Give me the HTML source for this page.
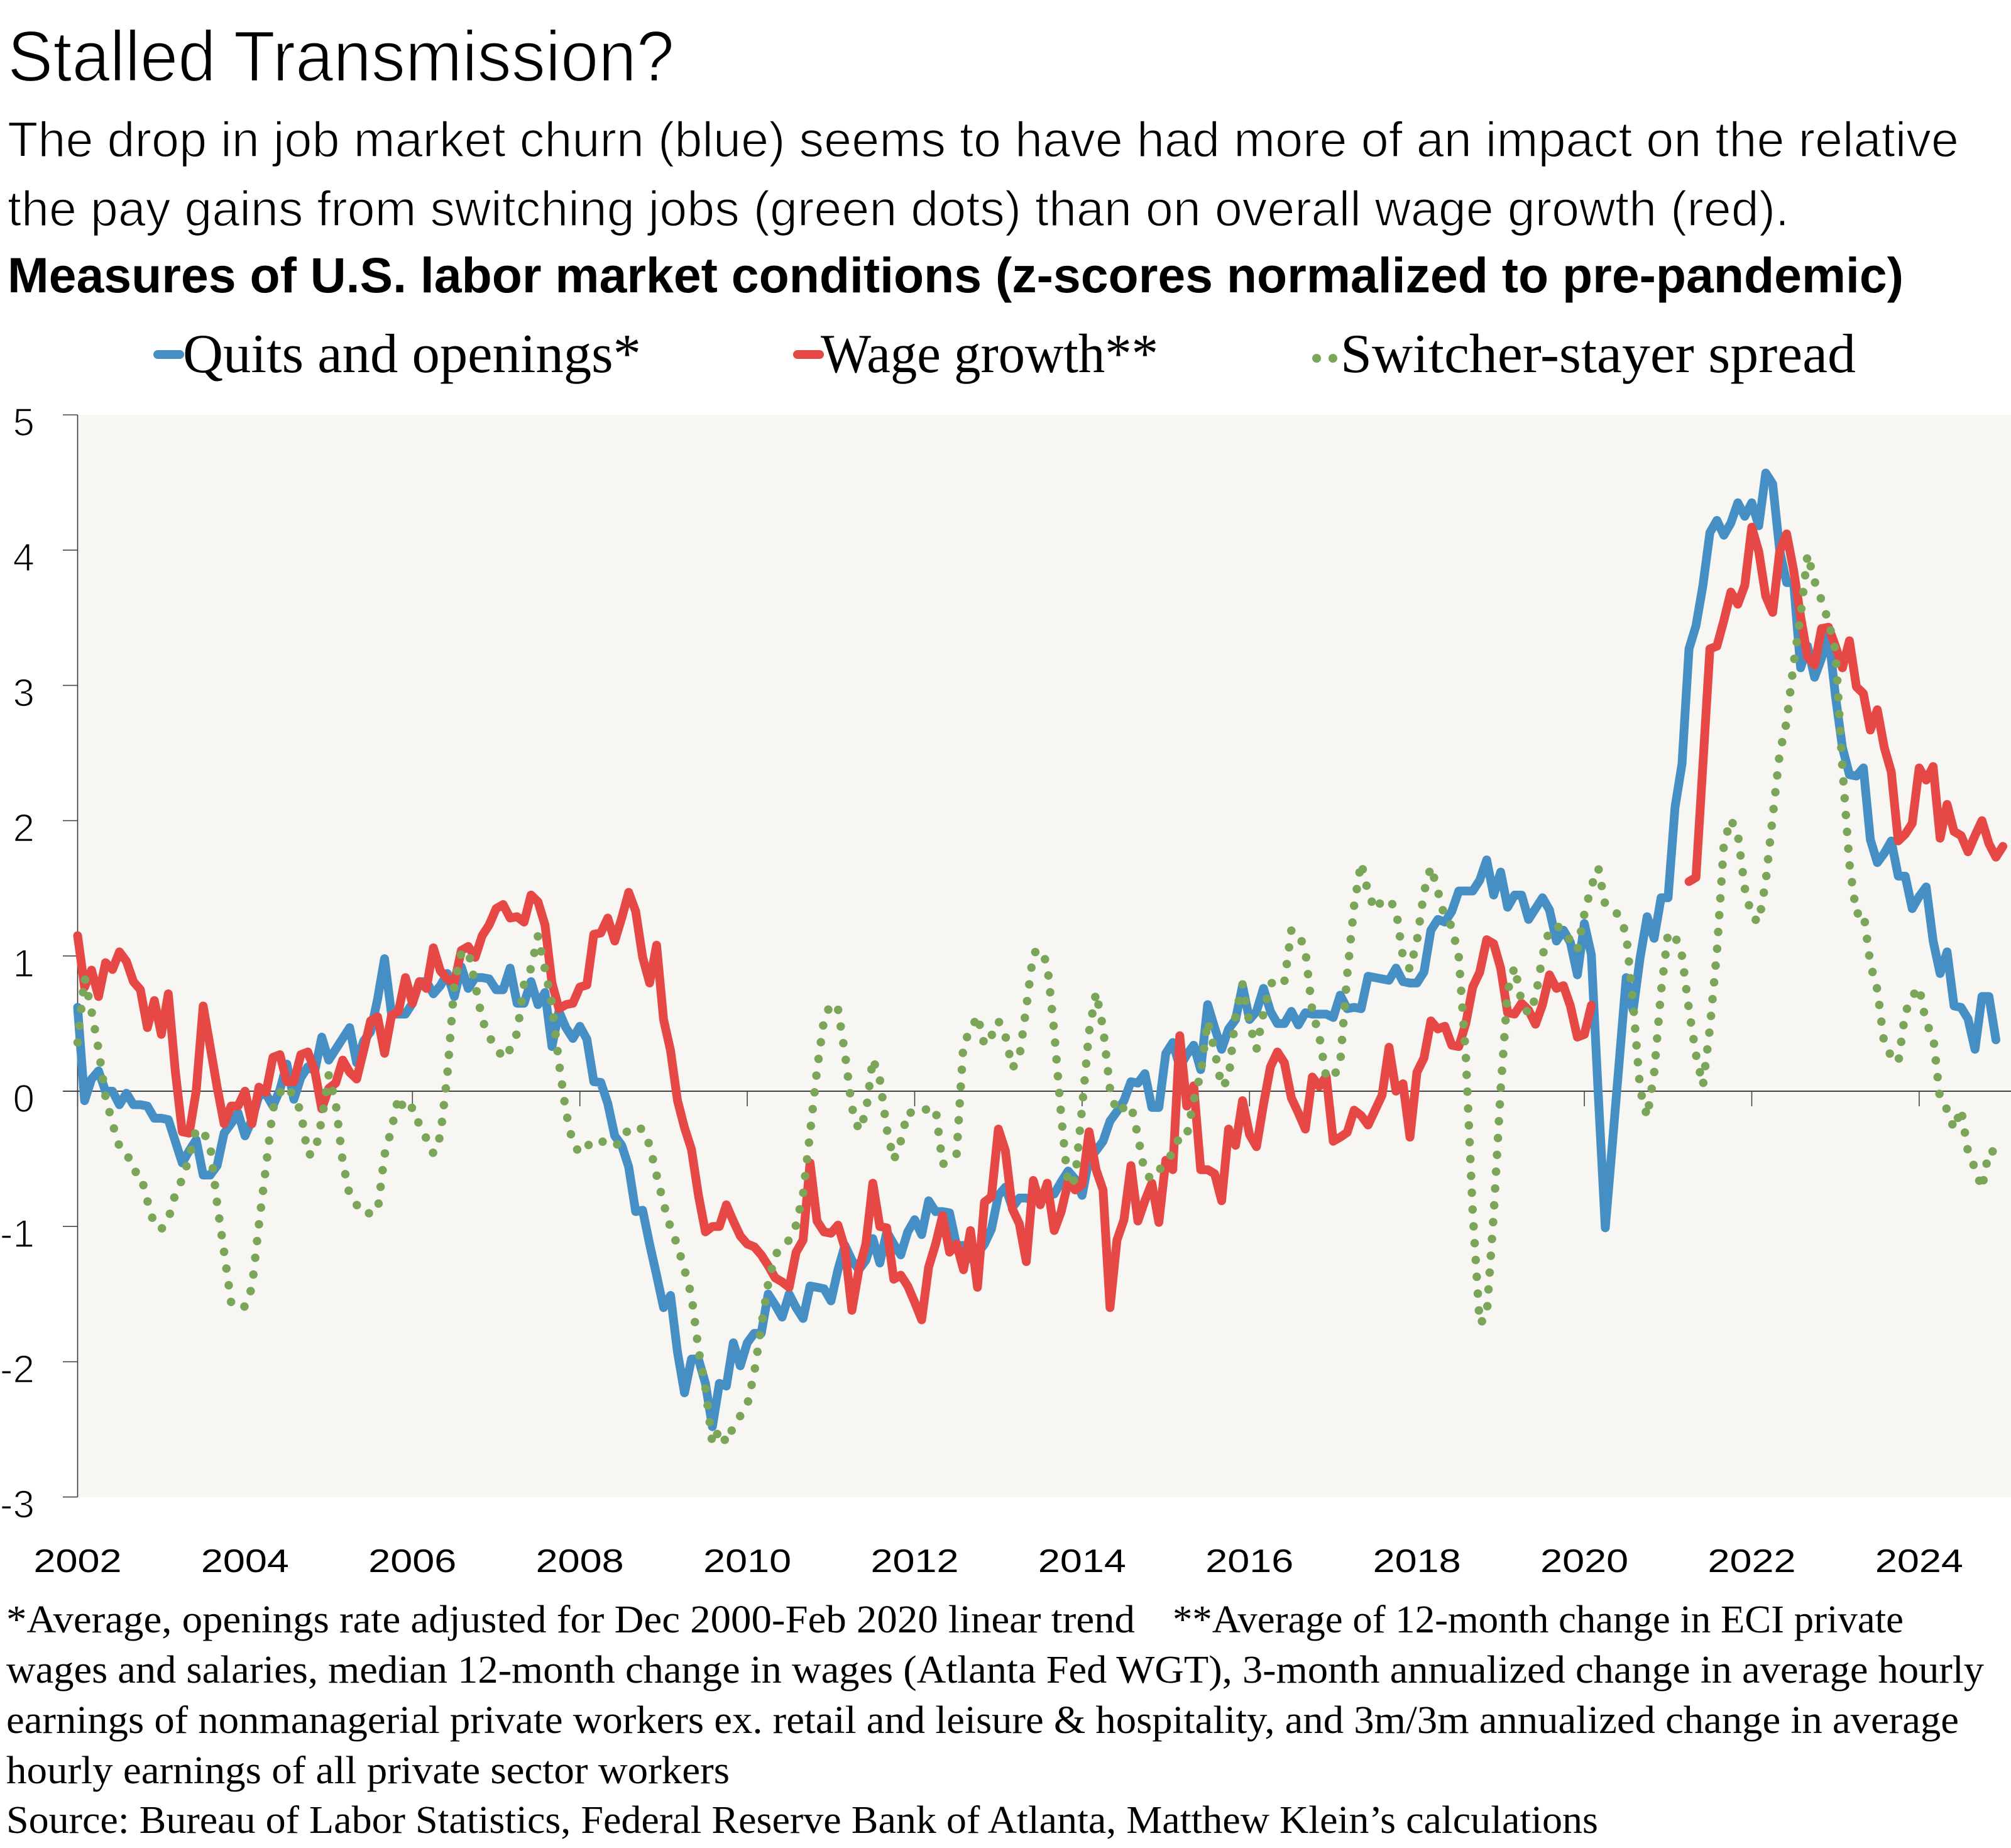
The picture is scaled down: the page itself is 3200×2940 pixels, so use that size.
<!DOCTYPE html>
<html lang="en">
<head>
<meta charset="utf-8">
<title>Stalled Transmission?</title>
<style>
html,body{margin:0;padding:0;background:#fff;width:3200px;height:2940px;overflow:hidden}
svg{display:block}
.sans{font-family:"Liberation Sans",sans-serif;fill:#000}
.thin{stroke:#fff;stroke-width:1.6px;paint-order:normal}
.thin-big{stroke:#fff;stroke-width:2.2px;paint-order:normal}
.serif{font-family:"Liberation Serif",serif;fill:#000}
</style>
</head>
<body>
<svg id="chart" xmlns="http://www.w3.org/2000/svg" width="3200" height="2940" viewBox="0 0 3200 2940">
  <rect x="0" y="0" width="3200" height="2940" fill="#ffffff"/>
  <text class="sans thin-big" x="12" y="129" font-size="114" textLength="1061" lengthAdjust="spacingAndGlyphs">Stalled Transmission?</text>
  <text class="sans thin" x="12" y="249" font-size="79" textLength="3105" lengthAdjust="spacingAndGlyphs">The drop in job market churn (blue) seems to have had more of an impact on the relative</text>
  <text class="sans thin" x="12" y="359" font-size="79" textLength="2835" lengthAdjust="spacingAndGlyphs">the pay gains from switching jobs (green dots) than on overall wage growth (red).</text>
  <text class="sans" x="12" y="465" font-size="79" font-weight="bold" textLength="3017" lengthAdjust="spacingAndGlyphs">Measures of U.S. labor market conditions (z-scores normalized to pre-pandemic)</text>

  <g>
    <g>
      <line x1="251" y1="564" x2="286" y2="564" stroke="#468fc5" stroke-width="14" stroke-linecap="round"/>
      <text class="serif" x="291" y="592" font-size="88" textLength="729" lengthAdjust="spacingAndGlyphs">Quits and openings*</text>
    </g>
    <g>
      <line x1="1269" y1="564" x2="1304" y2="564" stroke="#e64945" stroke-width="14" stroke-linecap="round"/>
      <text class="serif" x="1306" y="592" font-size="88" textLength="537" lengthAdjust="spacingAndGlyphs">Wage growth**</text>
    </g>
    <g>
      <circle cx="2095" cy="570" r="7" fill="#7ba65a"/>
      <circle cx="2121" cy="570" r="7" fill="#7ba65a"/>
      <text class="serif" x="2133" y="592" font-size="88" textLength="820" lengthAdjust="spacingAndGlyphs">Switcher-stayer spread</text>
    </g>
  </g>

  <rect x="124" y="660" width="3076" height="1722" fill="#f7f6f3"/>
  <g id="axes"></g>
  <g id="series"></g>

  <g>
    <text class="serif" x="10" y="2597" font-size="62" textLength="1796" lengthAdjust="spacingAndGlyphs">*Average, openings rate adjusted for Dec 2000-Feb 2020 linear trend</text>
    <text class="serif" x="1866" y="2597" font-size="62" textLength="1163" lengthAdjust="spacingAndGlyphs">**Average of 12-month change in ECI private</text>
    <text class="serif" x="10" y="2677" font-size="62" textLength="3147" lengthAdjust="spacingAndGlyphs">wages and salaries, median 12-month change in wages (Atlanta Fed WGT), 3-month annualized change in average hourly</text>
    <text class="serif" x="10" y="2757" font-size="62" textLength="3107" lengthAdjust="spacingAndGlyphs">earnings of nonmanagerial private workers ex. retail and leisure &amp; hospitality, and 3m/3m annualized change in average</text>
    <text class="serif" x="10" y="2837" font-size="62" textLength="1151" lengthAdjust="spacingAndGlyphs">hourly earnings of all private sector workers</text>
    <text class="serif" x="10" y="2916" font-size="62" textLength="2533" lengthAdjust="spacingAndGlyphs">Source: Bureau of Labor Statistics, Federal Reserve Bank of Atlanta, Matthew Klein’s calculations</text>
  </g>
</svg>
<script>
const yTickValues = [5, 4, 3, 2, 1, 0, -1, -2, -3];
const xTickYears = [2002, 2004, 2006, 2008, 2010, 2012, 2014, 2016, 2018, 2020, 2022, 2024];

// Monthly z-scores beginning January 2002
const quitsOpenings = [
  .62,-.07,.09,.15,0,0,-.1,-.015,-.1,-.1,
  -.11,-.2,-.2,-.21,-.37,-.53,-.44,-.36,-.62,-.62,
  -.55,-.31,-.24,-.16,-.33,-.21,-.03,-.02,-.11,.01,
  .2,-.06,.1,.18,.15,.4,.23,.31,.39,.47,
  .21,.37,.44,.68,.98,.57,.57,.57,.65,.81,
  .81,.72,.78,.87,.7,.92,.76,.84,.84,.83,
  .75,.75,.91,.65,.65,.81,.64,.73,.33,.59,
  .47,.39,.48,.385,.07,.065,-.09,-.33,-.4,-.56,
  -.89,-.88,-1.13,-1.36,-1.6,-1.51,-1.93,-2.23,-1.98,-1.98,
  -2.16,-2.48,-2.16,-2.18,-1.86,-2.03,-1.86,-1.79,-1.79,-1.5,
  -1.58,-1.67,-1.5,-1.6,-1.68,-1.44,-1.45,-1.46,-1.55,-1.32,
  -1.14,-1.25,-1.32,-1.25,-1.09,-1.27,-1.04,-1.13,-1.21,-1.04,
  -.95,-1.06,-.81,-.89,-.89,-.9,-1.14,-1.14,-1.24,-1.2,
  -1.13,-1.02,-.77,-.71,-.86,-.79,-.79,-.81,-.8,-.77,
  -.76,-.67,-.59,-.65,-.77,-.5,-.44,-.37,-.22,-.15,
  -.07,.07,.06,.13,-.12,-.12,.28,.36,.18,.27,
  .34,.16,.64,.47,.31,.46,.53,.78,.53,.59,
  .76,.59,.5,.5,.59,.49,.58,.57,.57,.57,
  .545,.71,.61,.62,.61,.85,.84,.83,.82,.91,
  .81,.8,.8,.88,1.19,1.27,1.25,1.33,1.48,1.48,
  1.48,1.56,1.71,1.45,1.62,1.36,1.45,1.45,1.27,1.35,
  1.43,1.34,1.11,1.19,1.1,.86,1.24,1.01,-.03,-1.01,
  -.4,.22,.84,.6,.99,1.29,1.13,1.43,1.43,2.1,
  2.42,3.27,3.44,3.74,4.13,4.22,4.11,4.2,4.35,4.25,
  4.35,4.18,4.57,4.49,4.0,3.76,3.76,3.13,3.29,3.06,
  3.2,3.38,2.92,2.54,2.34,2.33,2.39,1.86,1.69,1.76,
  1.85,1.59,1.59,1.35,1.44,1.51,1.11,.87,1.03,.63,
  .62,.535,.31,.7,.7,.38
];

const wageGrowth = [
  1.15,.77,.895,.7,.95,.9,1.03,.96,.81,.75,
  .47,.67,.42,.72,.15,-.3,-.31,0,.63,.33,
  .03,-.24,-.11,-.11,0,-.24,.03,-.01,.25,.27,
  .07,.07,.27,.29,.15,-.13,.02,.06,.23,.14,
  .09,.3,.52,.55,.28,.56,.59,.84,.65,.81,
  .76,1.06,.89,.83,.8,1.04,1.07,.99,1.15,1.23,
  1.35,1.38,1.28,1.29,1.25,1.45,1.4,1.23,.8,.61,
  .64,.65,.77,.785,1.16,1.17,1.28,1.11,1.28,1.47,
  1.33,.99,.8,1.08,.53,.3,-.07,-.27,-.43,-.77,
  -1.04,-1,-1,-.84,-.96,-1.07,-1.13,-1.15,-1.21,-1.29,
  -1.38,-1.41,-1.45,-1.19,-1.1,-.53,-.96,-1.04,-1.05,-.99,
  -1.16,-1.62,-1.32,-1.13,-.68,-1,-1.01,-1.39,-1.36,-1.44,
  -1.56,-1.69,-1.3,-1.13,-.92,-1.19,-1.13,-1.32,-1.03,-1.45,
  -.82,-.78,-.28,-.44,-.87,-.98,-1.26,-.66,-.84,-.68,
  -1.03,-.89,-.67,-.73,-.69,-.3,-.58,-.73,-1.6,-1.1,
  -.95,-.55,-.96,-.81,-.68,-.97,-.51,-.58,.41,-.11,
  .04,-.58,-.58,-.61,-.81,-.28,-.4,-.07,-.32,-.41,
  -.1,.18,.29,.21,-.05,-.16,-.28,.105,.035,.11,
  -.37,-.34,-.305,-.14,-.18,-.25,-.14,-.03,.325,0,
  .055,-.34,.14,.245,.52,.46,.48,.34,.33,.5,
  .77,.88,1.12,1.09,.91,.58,.57,.65,.6,.495,
  .64,.86,.76,.78,.63,.4,.42,.635,
  null,null,null,null,null,null,null,null,null,null,null,null,null,
  1.55,1.58,2.42,3.27,3.29,3.48,3.69,3.6,3.74,
  4.17,3.99,3.66,3.54,3.99,4.12,3.85,3.51,3.21,3.15,
  3.42,3.43,3.29,3.13,3.33,2.99,2.94,2.67,2.82,2.54,
  2.36,1.85,1.9,1.98,2.39,2.3,2.4,1.87,2.12,1.92,
  1.89,1.77,1.89,2.0,1.83,1.73,1.81
];

const switcherSpread = [
  .36,.84,.59,.31,-.04,-.24,-.41,-.45,-.59,-.61,
  -.81,-.99,-1.02,-.95,-.76,-.65,-.49,-.28,-.3,-.4,
  -.83,-1.19,-1.56,-1.61,-1.59,-1.45,-.98,-.56,-.13,-.01,
  .04,-.04,-.15,-.47,-.46,-.21,.12,-.09,-.52,-.77,
  -.84,-.91,-.9,-.89,-.47,-.28,-.04,-.16,-.12,-.25,
  -.35,-.46,-.33,.12,.79,1.02,1.04,.79,.53,.4,
  .33,.24,.31,.43,.79,.91,1.15,.9,.65,.21,
  -.15,-.385,-.46,-.41,-.36,-.36,-.41,-.4,-.38,-.27,
  -.27,-.28,-.4,-.62,-.83,-1.01,-1.14,-1.32,-1.51,-1.91,
  -2.19,-2.61,-2.5,-2.6,-2.48,-2.4,-2.32,-2.08,-1.74,-1.42,
  -1.21,-1.15,-1.1,-.99,-.76,-.31,.16,.53,.65,.61,
  .28,-.12,-.29,-.16,.24,.09,-.28,-.51,-.37,-.15,
  -.17,-.16,-.12,-.13,-.54,-.51,-.47,.36,.44,.56,
  .34,.41,.52,.41,.17,.25,.62,1.02,1.05,.94,
  .44,-.18,-.7,-.65,-.12,.44,.73,.47,.015,-.16,
  -.12,-.1,-.33,-.61,-.65,-.59,-.51,-.46,-.33,-.33,
  -.07,.13,.52,.3,.03,.09,.56,.79,.5,.31,
  .58,.79,.84,.81,1.19,1.17,1.04,.59,.41,.1,
  .1,.21,.86,1.375,1.69,1.47,1.34,1.41,1.42,1.34,
  .99,.9,1.11,1.47,1.66,1.48,1.28,1.22,.99,.27,
  -.9,-1.72,-1.66,-.91,.01,.74,.92,.66,.57,.69,
  1,1.2,1.22,1.2,1.11,1.04,1.31,1.515,1.65,1.375,
  1.34,1.3,1.16,.64,.01,-.19,.13,.74,1.17,1.15,
  1,.6,.27,.04,.47,1.03,1.83,2.01,1.9,1.5,
  1.29,1.25,1.55,2.03,2.5,2.73,3.16,3.52,3.97,3.77,
  3.63,3.47,3.26,2.39,1.68,1.31,1.33,.94,.75,.345,
  .26,.21,.58,.7,.77,.5,.41,-.065,-.135,-.28,
  -.13,-.45,-.57,-.72,-.44,-.45
];

const SVG_NS = 'http://www.w3.org/2000/svg';
const axesLayer = document.getElementById('axes');
const seriesLayer = document.getElementById('series');

function xOfMonth(monthIndex) {
  return 123.5 + monthIndex * 11.1;
}
function xOfYear(year) {
  return xOfMonth((year - 2002) * 12);
}
function yOfValue(value) {
  return 1736 - value * 215.2;
}
function svgEl(tag) {
  return document.createElementNS(SVG_NS, tag);
}
function pathFrom(values) {
  let d = '';
  let pen = false;
  values.forEach(function (v, i) {
    if (v === null) {
      pen = false;
      return;
    }
    d += (pen ? 'L' : 'M') + xOfMonth(i).toFixed(2) + ' ' + yOfValue(v).toFixed(2);
    pen = true;
  });
  return d;
}

// Axis lines and ticks
const yAxisLine = svgEl('line');


yAxisLine.setAttribute('x1', 123.5);
yAxisLine.setAttribute('x2', 123.5);
yAxisLine.setAttribute('y1', yOfValue(5));
yAxisLine.setAttribute('y2', yOfValue(-3));
yAxisLine.setAttribute('stroke', '#333');
yAxisLine.setAttribute('stroke-width', '1.6');
axesLayer.appendChild(yAxisLine);

yTickValues.forEach(function (v) {
  const tick = svgEl('line');
  
  
  tick.setAttribute('x1', 100);
  tick.setAttribute('x2', v === 0 ? 3200 : 123.5);
  tick.setAttribute('y1', yOfValue(v));
  tick.setAttribute('y2', yOfValue(v));
  tick.setAttribute('stroke', '#444');
  tick.setAttribute('stroke-width', v === 0 ? '2' : '1.6');
  axesLayer.appendChild(tick);

  const label = svgEl('text');
  
  
  label.setAttribute('class', 'sans thin');
  label.setAttribute('x', 55);
  label.setAttribute('y', yOfValue(v) + 33);
  label.setAttribute('font-size', '62');
  label.setAttribute('text-anchor', 'end');
  label.textContent = String(v);
  axesLayer.appendChild(label);
});

xTickYears.forEach(function (year) {
  const tick = svgEl('line');
  
  
  tick.setAttribute('x1', xOfYear(year));
  tick.setAttribute('x2', xOfYear(year));
  tick.setAttribute('y1', yOfValue(0));
  tick.setAttribute('y2', yOfValue(0) + 24);
  tick.setAttribute('stroke', '#444');
  tick.setAttribute('stroke-width', '1.6');
  axesLayer.appendChild(tick);

  const label = svgEl('text');
  
  
  label.setAttribute('class', 'sans');
  label.setAttribute('x', xOfYear(year));
  label.setAttribute('y', 2501);
  label.setAttribute('font-size', '52');
  label.setAttribute('textLength', '140');
  label.setAttribute('lengthAdjust', 'spacingAndGlyphs');
  label.setAttribute('text-anchor', 'middle');
  label.textContent = String(year);
  axesLayer.appendChild(label);
});

// Series
const quitsLine = svgEl('path');


quitsLine.setAttribute('d', pathFrom(quitsOpenings));
quitsLine.setAttribute('fill', 'none');
quitsLine.setAttribute('stroke', '#468fc5');
quitsLine.setAttribute('stroke-width', '14');
quitsLine.setAttribute('stroke-linejoin', 'round');
quitsLine.setAttribute('stroke-linecap', 'round');
seriesLayer.appendChild(quitsLine);

const wageLine = svgEl('path');


wageLine.setAttribute('d', pathFrom(wageGrowth));
wageLine.setAttribute('fill', 'none');
wageLine.setAttribute('stroke', '#e64945');
wageLine.setAttribute('stroke-width', '14');
wageLine.setAttribute('stroke-linejoin', 'round');
wageLine.setAttribute('stroke-linecap', 'round');
seriesLayer.appendChild(wageLine);

const switcherLine = svgEl('path');


switcherLine.setAttribute('d', pathFrom(switcherSpread));
switcherLine.setAttribute('fill', 'none');
switcherLine.setAttribute('stroke', '#7ba65a');
switcherLine.setAttribute('stroke-width', '13.5');
switcherLine.setAttribute('stroke-linejoin', 'round');
switcherLine.setAttribute('stroke-linecap', 'round');
switcherLine.setAttribute('stroke-dasharray', '0.01 26.8');
seriesLayer.appendChild(switcherLine);
</script>
</body>
</html>
